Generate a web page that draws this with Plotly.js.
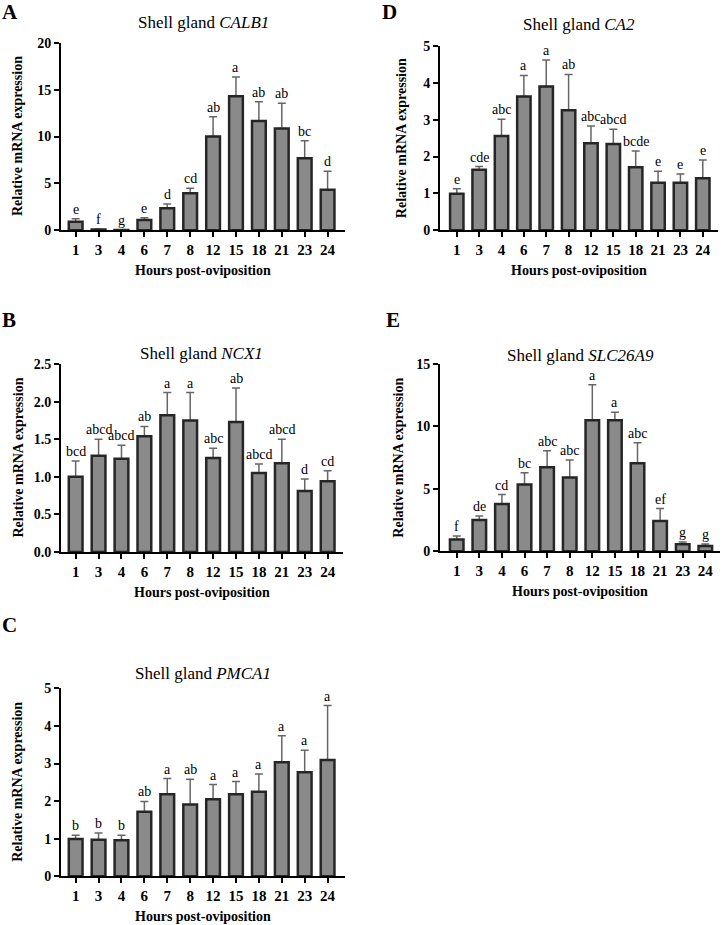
<!DOCTYPE html>
<html>
<head>
<meta charset="utf-8">
<script src="https://cdn.plot.ly/plotly-3.0.1.min.js"></script>
<style>
  html, body { margin: 0; padding: 0; background: #fff; }
  #fig { width: 725px; height: 925px; }
</style>
</head>
<body>
<div id="fig"></div>
<script>
// hours post-oviposition (same for every panel)
var hours = ['1', '3', '4', '6', '7', '8', '12', '15', '18', '21', '23', '24'];

// A  CALB1
var calb1Mean = [0.9, 0.08, 0.03, 1.1, 2.35, 3.95, 10.0, 14.3, 11.65, 10.85, 7.67, 4.33];
var calb1Err  = [0.32, 0.02, 0.01, 0.25, 0.45, 0.53, 2.1, 2.05, 2.05, 2.7, 1.88, 1.97];
var calb1Sig  = ['e', 'f', 'g', 'e', 'd', 'cd', 'ab', 'a', 'ab', 'ab', 'bc', 'd'];

// D  CA2
var ca2Mean = [0.99, 1.64, 2.56, 3.63, 3.9, 3.26, 2.36, 2.34, 1.71, 1.29, 1.29, 1.41];
var ca2Err  = [0.14, 0.09, 0.45, 0.57, 0.72, 0.97, 0.47, 0.40, 0.44, 0.31, 0.24, 0.50];
var ca2Sig  = ['e', 'cde', 'abc', 'a', 'a', 'ab', 'abc', 'abcd', 'bcde', 'e', 'e', 'e'];

// B  NCX1
var ncx1Mean = [1.0, 1.28, 1.24, 1.54, 1.82, 1.75, 1.25, 1.73, 1.05, 1.18, 0.81, 0.94];
var ncx1Err  = [0.21, 0.22, 0.18, 0.13, 0.30, 0.37, 0.13, 0.45, 0.12, 0.32, 0.16, 0.14];
var ncx1Sig  = ['bcd', 'abcd', 'abcd', 'ab', 'a', 'a', 'abc', 'ab', 'abcd', 'abcd', 'd', 'cd'];

// E  SLC26A9
var slcMean = [0.95, 2.5, 3.79, 5.34, 6.73, 5.92, 10.5, 10.5, 7.05, 2.43, 0.56, 0.43];
var slcErr  = [0.28, 0.33, 0.75, 0.96, 1.33, 1.39, 2.84, 0.63, 1.65, 0.99, 0.19, 0.16];
var slcSig  = ['f', 'de', 'cd', 'bc', 'abc', 'abc', 'a', 'a', 'abc', 'ef', 'g', 'g'];

// C  PMCA1
var pmcaMean = [0.99, 0.975, 0.96, 1.72, 2.18, 1.91, 2.05, 2.18, 2.25, 3.03, 2.77, 3.09];
var pmcaErr  = [0.10, 0.175, 0.13, 0.27, 0.42, 0.67, 0.39, 0.34, 0.47, 0.71, 0.58, 1.45];
var pmcaSig  = ['b', 'b', 'b', 'ab', 'a', 'ab', 'a', 'a', 'a', 'a', 'a', 'a'];

var FONT = 'Liberation Serif, "Times New Roman", serif';
var W = 725, H = 925;
function fx(x) { return x / W; }      // pixel -> paper x
function fy(y) { return 1 - y / H; }  // pixel -> paper y

// frames in pixels: l/r = x axis ends, t = top of y range, b = y=0 line
var panels = [
  {letter: 'A', gene: 'CALB1', mean: calb1Mean, err: calb1Err, sig: calb1Sig,
   ymax: 20, dtick: 5, fmt: 'd', l: 61, r: 345, t: 42.7, b: 230.3,
   xr: [-0.64, 11.76], titleY: 23, letterPos: [10, 12], ytX: 17.5},
  {letter: 'D', gene: 'CA2', mean: ca2Mean, err: ca2Err, sig: ca2Sig,
   ymax: 5, dtick: 1, fmt: 'd', l: 440, r: 718, t: 46, b: 230.3,
   xr: [-0.75, 11.68], titleY: 25, letterPos: [389, 12], ytX: 401},
  {letter: 'B', gene: 'NCX1', mean: ncx1Mean, err: ncx1Err, sig: ncx1Sig,
   ymax: 2.5, dtick: 0.5, fmt: '.1f', l: 61, r: 343, t: 364, b: 552,
   xr: [-0.64, 11.67], titleY: 353, letterPos: [9, 320], ytX: 17.5},
  {letter: 'E', gene: 'SLC26A9', mean: slcMean, err: slcErr, sig: slcSig,
   ymax: 15, dtick: 5, fmt: 'd', l: 440, r: 720, t: 364, b: 551.3,
   xr: [-0.74, 11.65], titleY: 355, letterPos: [393, 320], ytX: 399},
  {letter: 'C', gene: 'PMCA1', mean: pmcaMean, err: pmcaErr, sig: pmcaSig,
   ymax: 5, dtick: 1, fmt: 'd', l: 61, r: 345, t: 688.3, b: 876.3,
   xr: [-0.64, 11.76], titleY: 673, letterPos: [9, 625], ytX: 17.5}
];

var traces = [];
var layout = {
  width: W, height: H,
  margin: {l: 0, r: 0, t: 0, b: 0},
  paper_bgcolor: '#fff', plot_bgcolor: 'rgba(0,0,0,0)',
  showlegend: false,
  barmode: 'overlay',
  font: {family: FONT, color: '#000'},
  annotations: []
};

// text placed by pixel centre on the page
function pageText(x, y, text, size, bold, angle) {
  layout.annotations.push({
    xref: 'paper', yref: 'paper', x: fx(x), y: fy(y),
    xanchor: 'center', yanchor: 'middle', textangle: angle || 0,
    text: text, showarrow: false,
    font: {family: FONT, size: size, color: '#000', weight: bold ? 'bold' : 'normal'}
  });
}

panels.forEach(function (p, i) {
  var n = i === 0 ? '' : String(i + 1);
  var xa = 'x' + n, ya = 'y' + n;

  // filled bars + upper error bars
  traces.push({
    type: 'bar', x: hours, y: p.mean, xaxis: xa, yaxis: ya, width: 0.6,
    marker: {color: '#8a8a8a', line: {width: 0}},
    error_y: {type: 'data', symmetric: false, array: p.err,
              arrayminus: p.mean.map(function () { return 0; }),
              color: '#666666', thickness: 1.5, width: 4},
    hoverinfo: 'none'
  });
  // dark outline drawn over the error-bar foot
  traces.push({
    type: 'bar', x: hours, y: p.mean, xaxis: xa, yaxis: ya, width: 0.6,
    marker: {color: 'rgba(0,0,0,0)', line: {width: 2.5, color: '#262626'}},
    hoverinfo: 'none'
  });

  layout['xaxis' + n] = {
    domain: [fx(p.l), fx(p.r)], anchor: ya, type: 'category',
    range: p.xr, fixedrange: true,
    showline: true, linecolor: '#000', linewidth: 2,
    ticks: 'outside', ticklen: 5, tickwidth: 2, tickcolor: '#000',
    tickfont: {family: FONT, size: 15, color: '#000', weight: 'bold'},
    showgrid: false, zeroline: false
  };
  layout['yaxis' + n] = {
    domain: [fy(p.b), fy(p.t)], anchor: xa,
    range: [0, p.ymax], dtick: p.dtick, tickformat: p.fmt, fixedrange: true,
    showline: true, linecolor: '#000', linewidth: 2,
    ticks: 'outside', ticklen: 5, tickwidth: 2, tickcolor: '#000',
    tickfont: {family: FONT, size: 14, color: '#000', weight: 'bold'},
    showgrid: false, zeroline: false
  };

  var cx = (p.l + p.r) / 2;
  pageText(cx, p.titleY, 'Shell gland <i>' + p.gene + '</i>', 17, false);
  pageText(p.letterPos[0], p.letterPos[1], p.letter, 21, true);
  pageText(cx, p.b + 40, 'Hours post-oviposition', 14, true);
  pageText(p.ytX, (p.t + p.b) / 2, 'Relative mRNA expression', 14, true, -90);

  // significance letters above each error bar (x given as category index)
  hours.forEach(function (h, k) {
    layout.annotations.push({
      xref: xa, yref: ya, x: k, y: p.mean[k] + p.err[k],
      xanchor: 'center', yanchor: 'bottom', yshift: 0,
      text: p.sig[k], showarrow: false,
      font: {family: FONT, size: 14, color: '#000'}
    });
  });
});

Plotly.newPlot('fig', traces, layout, {staticPlot: true, displayModeBar: false});
</script>
</body>
</html>
